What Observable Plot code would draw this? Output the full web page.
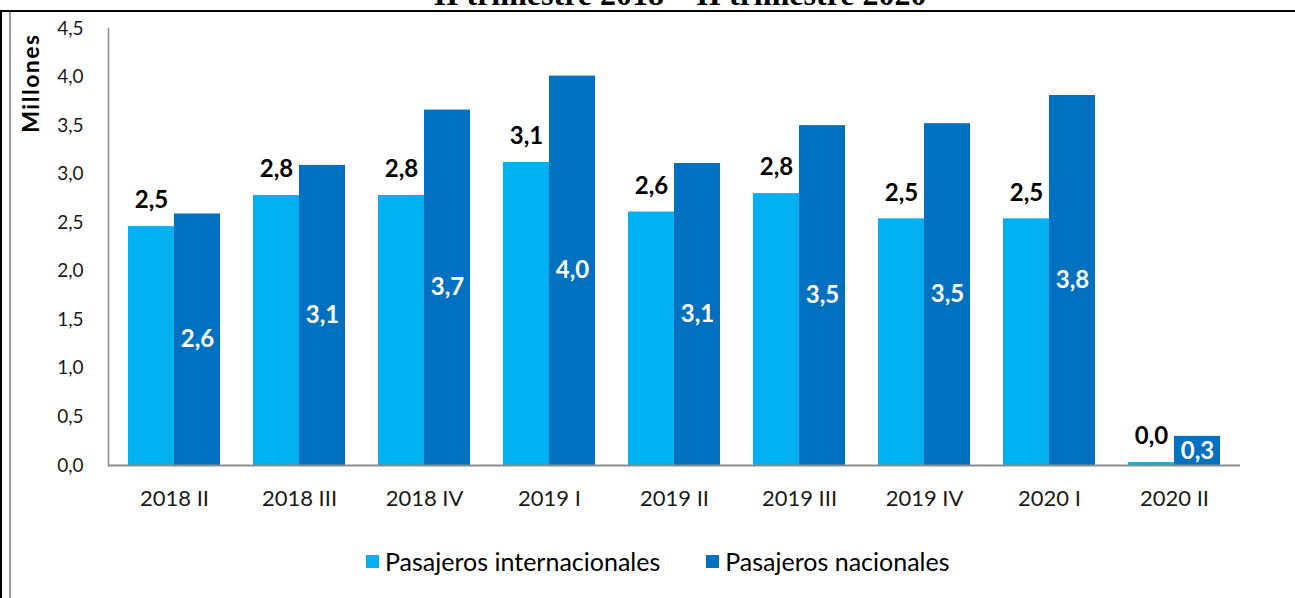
<!DOCTYPE html>
<html>
<head>
<meta charset="utf-8">
<script src="https://cdn.jsdelivr.net/npm/d3@7"></script>
<script src="https://cdn.jsdelivr.net/npm/@observablehq/plot@0.6"></script>
<style>
  html, body { margin: 0; padding: 0; background: #fff; }
  #wrap { position: relative; width: 1295px; height: 598px; overflow: hidden; background: #fff;
          font-family: Lato, "Open Sans", sans-serif; }
  #title { position: absolute; left: 0; width: 1360px; top: -22px; text-align: center;
           font: bold 32px "Liberation Serif", "Times New Roman", serif; color: #000; line-height: 32px; }
  .bl { position: absolute; left: 0; top: 10px; width: 2px; bottom: 0; background: #000; }
  .bt { position: absolute; left: 0; right: 0; top: 10px; height: 2px; background: #000; }
  .bg { position: absolute; left: 9px; top: 12px; width: 2px; bottom: 0; background: #9a9a9a; }
  #chart { position: absolute; left: 0; top: 0; }
  #ylab { position: absolute; left: 30px; top: 83px; transform: translate(-50%, -50%) rotate(-90deg);
          font-weight: bold; font-size: 23px; letter-spacing: 1.5px; color: #000; white-space: nowrap; }
  #legend { position: absolute; top: 546px; left: 366px; display: flex; font-size: 25px; color: #000; }
  .item { display: flex; align-items: center; }
  .item + .item { margin-left: 46px; }
  .sw { width: 13px; height: 13px; display: inline-block; margin-right: 6px; }
</style>
</head>
<body>
<div id="wrap">
  <div id="title">II trimestre 2018 – II trimestre 2020</div>
  <div class="bt"></div>
  <div class="bl"></div>
  <div class="bg"></div>
  <div id="chart"></div>
  <div id="ylab">Millones</div>
  <div id="legend"></div>
</div>
<script>
const periods = ["2018 II", "2018 III", "2018 IV", "2019 I", "2019 II", "2019 III", "2019 IV", "2020 I", "2020 II"];
const internacionales = [2.46, 2.78, 2.78, 3.12, 2.61, 2.80, 2.54, 2.54, 0.03];
const nacionales = [2.59, 3.09, 3.66, 4.01, 3.11, 3.50, 3.52, 3.81, 0.30];
const seriesNames = ["Pasajeros internacionales", "Pasajeros nacionales"];
const seriesColors = ["#00B0F0", "#0070C0"];
const yTicks = [0, 0.5, 1, 1.5, 2, 2.5, 3, 3.5, 4, 4.5];

const fmt = v => v.toFixed(1).replace(".", ",");
const intl = periods.map((p, i) => ({period: p, value: internacionales[i]}));
const nac = periods.map((p, i) => ({period: p, value: nacionales[i]}));

const half = 46;
const chart = Plot.plot({
  width: 1295,
  height: 520,
  marginLeft: 108,
  marginRight: 55,
  marginTop: 28,
  marginBottom: 55,
  style: {fontFamily: "Lato, 'Open Sans', sans-serif", background: "transparent"},
  x: {domain: periods, paddingInner: 0.267, paddingOuter: 0.133, label: null},
  y: {domain: [0, 4.5], label: null},
  marks: [
    Plot.barY(intl, {x: "period", y: "value", fill: seriesColors[0], insetRight: half}),
    Plot.barY(nac, {x: "period", y: "value", fill: seriesColors[1], insetLeft: half}),
    Plot.ruleY([0], {stroke: "#8c8c8c", strokeWidth: 2}),
    Plot.frame({anchor: "left", stroke: "#8c8c8c", strokeWidth: 1.5}),
    Plot.axisY({ticks: yTicks, tickSize: 0, tickPadding: 25, tickFormat: fmt, fontSize: 19, fill: "#1a1a1a", label: null}),
    Plot.axisX({tickSize: 0, tickPadding: 25, fontSize: 22, fill: "#1a1a1a", label: null}),
    Plot.text(intl, {x: "period", y: "value", text: d => fmt(d.value), dx: -half / 2, dy: -26,
      fontSize: 24, fontWeight: "bold", fill: "#000"}),
    Plot.text(nac, {x: "period", y: d => d.value / 2, text: d => fmt(d.value), dx: half / 2,
      fontSize: 24, fontWeight: "bold", fill: "#fff"})
  ]
});
document.getElementById("chart").appendChild(chart);

const legend = document.getElementById("legend");
seriesNames.forEach((name, i) => {
  const item = document.createElement("div");
  item.className = "item";
  const sw = document.createElement("span");
  sw.className = "sw";
  sw.style.background = seriesColors[i];
  const t = document.createElement("span");
  t.textContent = name;
  item.appendChild(sw);
  item.appendChild(t);
  legend.appendChild(item);
});
</script>
</body>
</html>
